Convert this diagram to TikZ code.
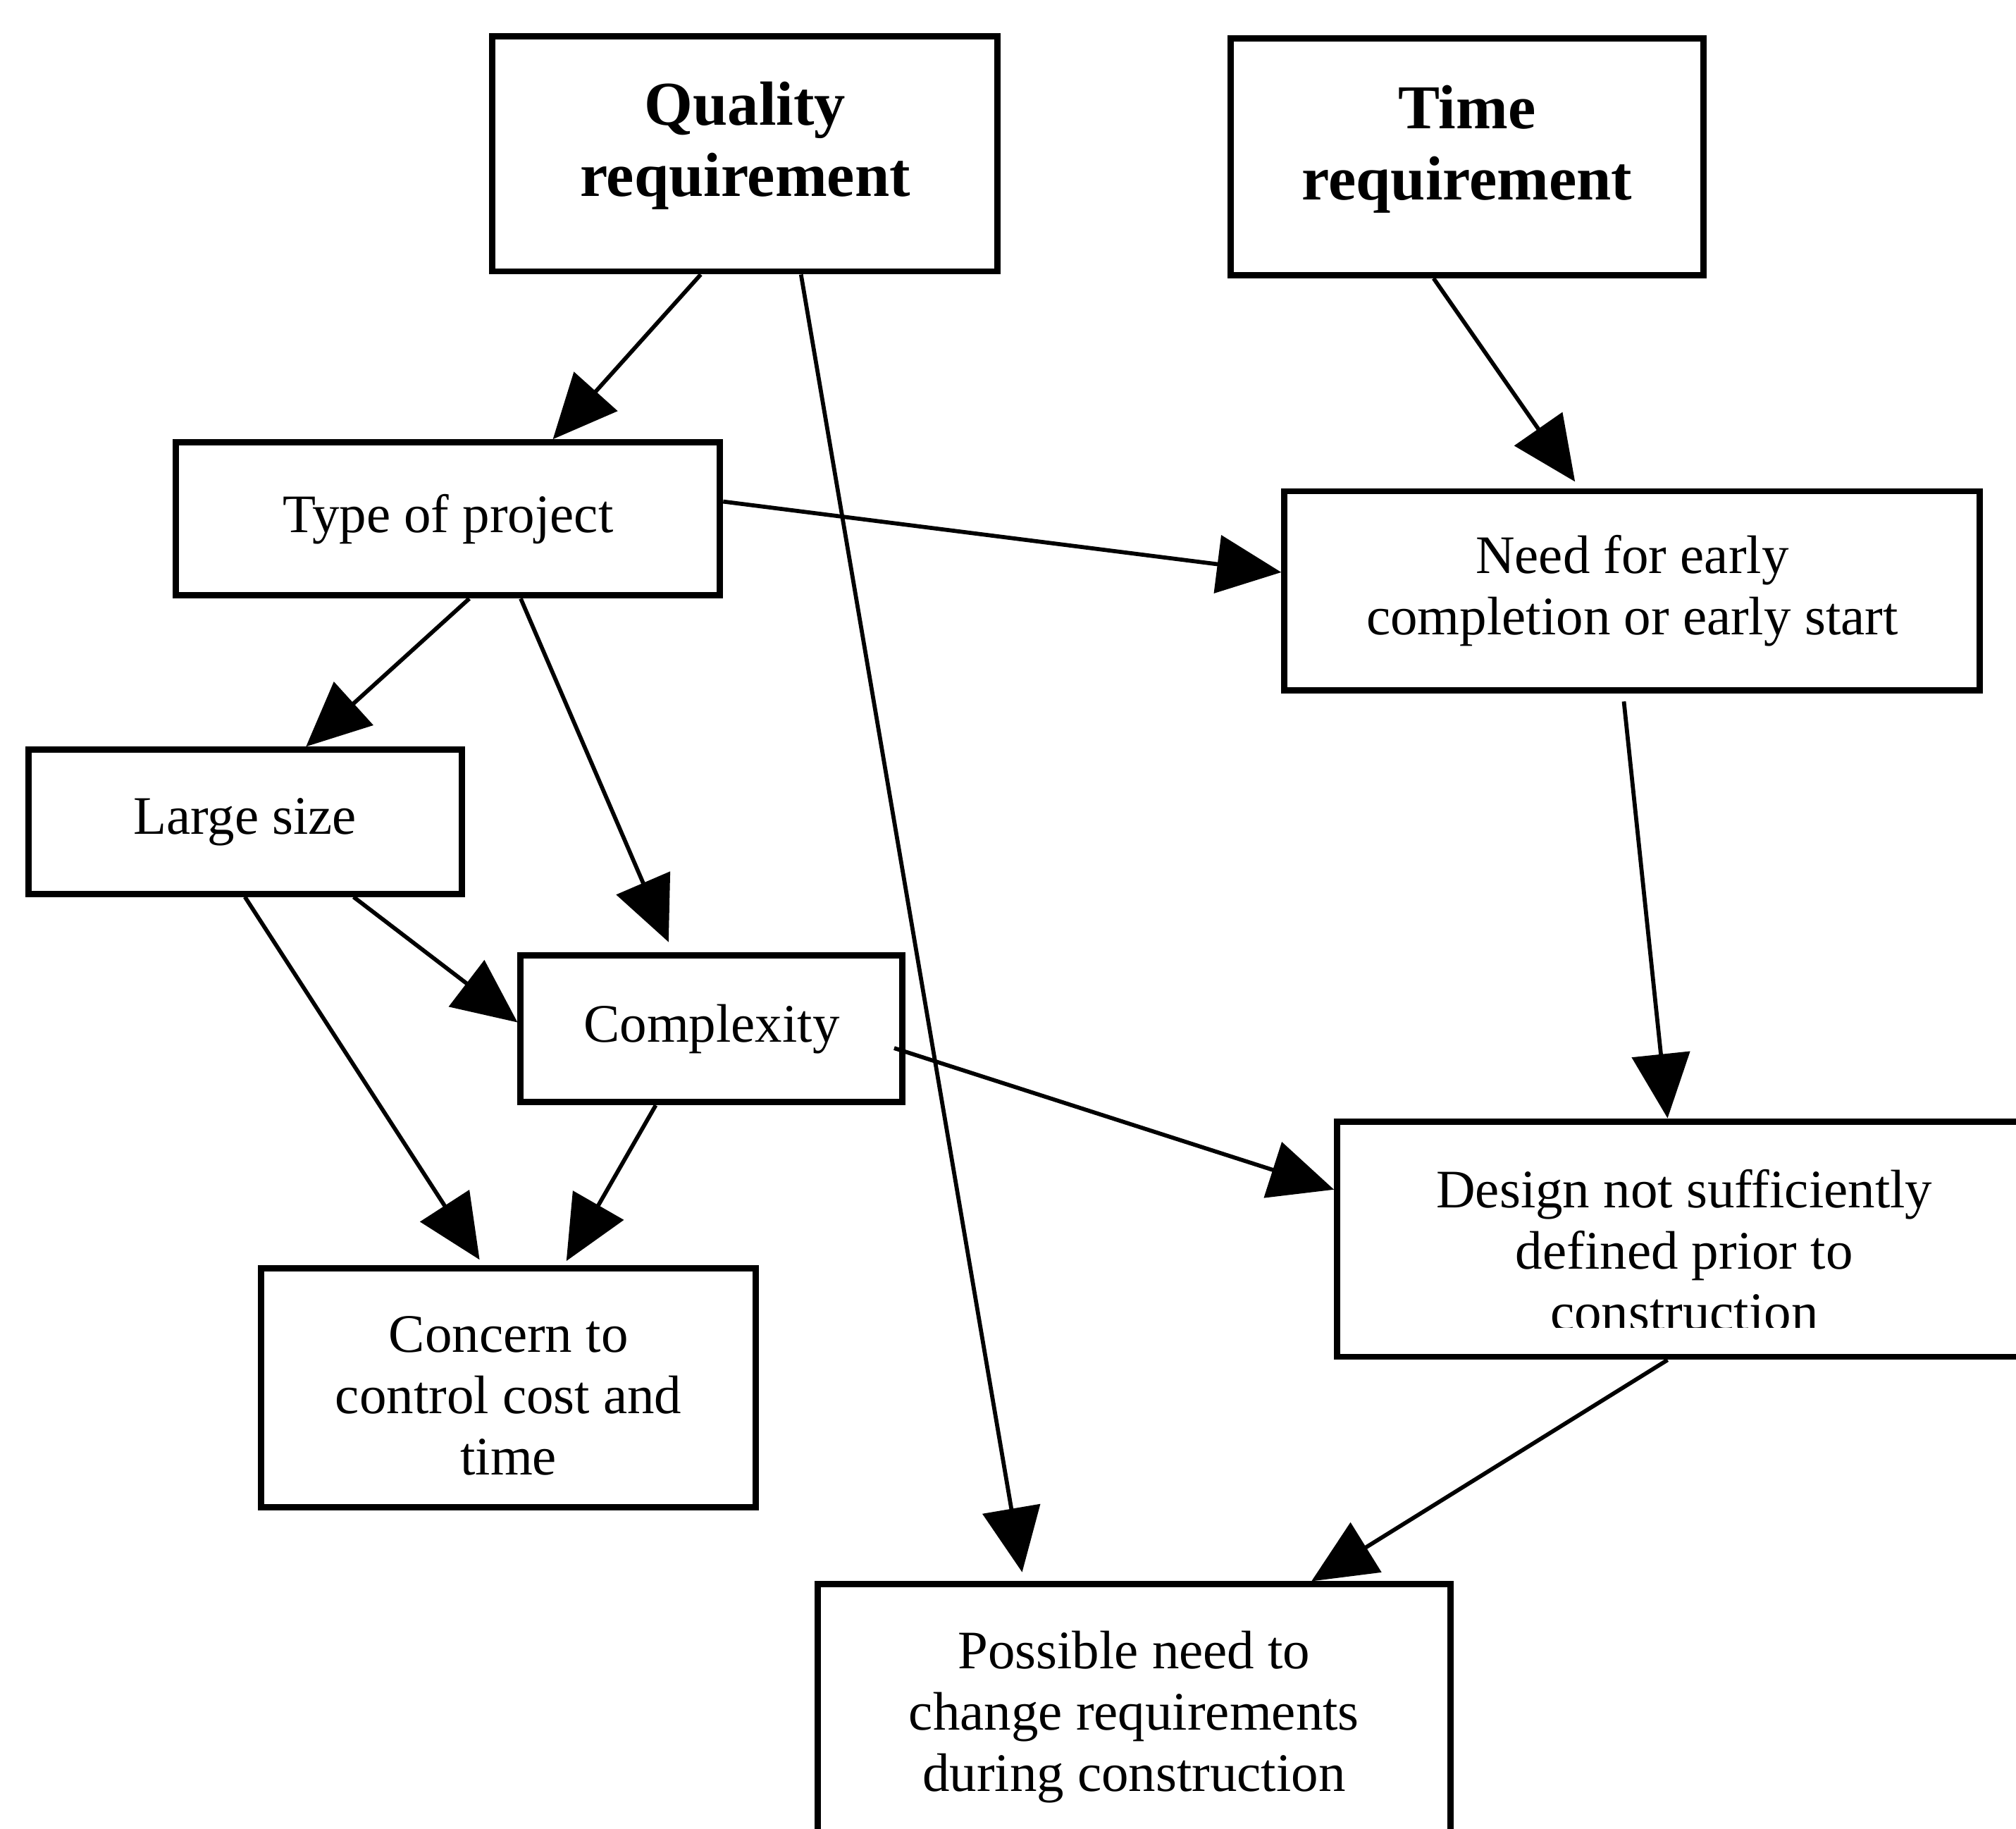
\documentclass[tikz,border=0pt]{standalone}
\usepackage{fontspec}
\setmainfont{Liberation Serif}
\usetikzlibrary{arrows.meta}

\begin{document}
\begin{tikzpicture}[
	block/.style={draw, line width=1.4pt, align=center, inner sep=0pt,
		font=\fontsize{12}{13.6}\selectfont},
	head/.style={block, text depth=6.4pt, font=\fontsize{13.8}{15.8}\selectfont\bfseries},
	link/.style={line width=0.9pt, -{Triangle[length=5mm, width=4.5mm]}}
	]
	\useasboundingbox (0,0) rectangle (15.68,14.22);
	\clip (0,0) rectangle (15.68,14.22);

	% top row
	\node[head, minimum width=3.93cm, minimum height=1.83cm] (qual) at (5.795,13.025) {Quality\\requirement};
	\node[head, minimum width=3.68cm, minimum height=1.84cm] (time) at (11.41,13.00) {Time\\requirement};

	\node[block, minimum width=4.23cm, minimum height=1.19cm] (type) at (3.485,10.185) {Type of project};
	\node[block, minimum width=5.41cm, minimum height=1.55cm] (need) at (12.695,9.625) {Need for early\\completion or early start};
	\node[block, minimum width=3.37cm, minimum height=1.12cm] (large) at (1.905,7.83) {Large size};
	\node[block, minimum width=2.97cm, minimum height=1.14cm] (complex) at (5.535,6.22) {Complexity};
	\node[block, text height=38.8pt, minimum width=3.85cm, minimum height=1.86cm] (concern) at (3.955,3.43) {Concern to\\control cost and\\time};

	% last line of the text is cut by the box
	\begin{scope}
		\clip (10.4,3.90) rectangle (15.68,5.5);
		\node[align=center, font=\fontsize{12}{13.6}\selectfont] (designtxt) at (13.10,4.50) {Design not sufficiently\\defined prior to\\construction};
	\end{scope}
	\node[block, minimum width=5.6cm, minimum height=1.83cm] (design) at (13.20,4.585) {};

	\node[block, minimum width=4.92cm, minimum height=2.06cm] (possible) at (8.82,0.87) {Possible need to\\change requirements\\during construction};

	% arrows
	\draw[link] ([xshift=-3.45mm]qual.south) -- ([xshift=8.15mm]type.north);
	\draw[link] ([xshift=4.35mm]qual.south) -- ([xshift=-8.7mm, yshift=0.7mm]possible.north);
	\draw[link] ([xshift=-2.6mm]time.south) -- ([xshift=-4.45mm, yshift=0.5mm]need.north);
	\draw[link] ([yshift=1.35mm]type.east) -- ([yshift=1.45mm]need.west);
	\draw[link] ([xshift=1.65mm]type.south) -- ([xshift=4.75mm]large.north);
	\draw[link] ([xshift=5.65mm]type.south) -- ([xshift=-3.35mm, yshift=0.8mm]complex.north);
	\draw[link] ([xshift=8.45mm]large.south) -- ([yshift=0.5mm]complex.west);
	\draw[link] (large.south) -- ([xshift=-2.25mm, yshift=0.4mm]concern.north);
	\draw[link] ([xshift=-4.35mm]complex.south) -- ([xshift=4.5mm, yshift=0.3mm]concern.north);
	\draw[link] ([xshift=-0.9mm, yshift=-1.5mm]complex.east) -- ([yshift=3.85mm]design.west);
	\draw[link] ([xshift=-0.65mm, yshift=-0.6mm]need.south) -- ([xshift=-2.3mm]design.north);
	\draw[link] ([xshift=-2.3mm]design.south) -- ([xshift=13.8mm]possible.north);

\end{tikzpicture}
\end{document}
